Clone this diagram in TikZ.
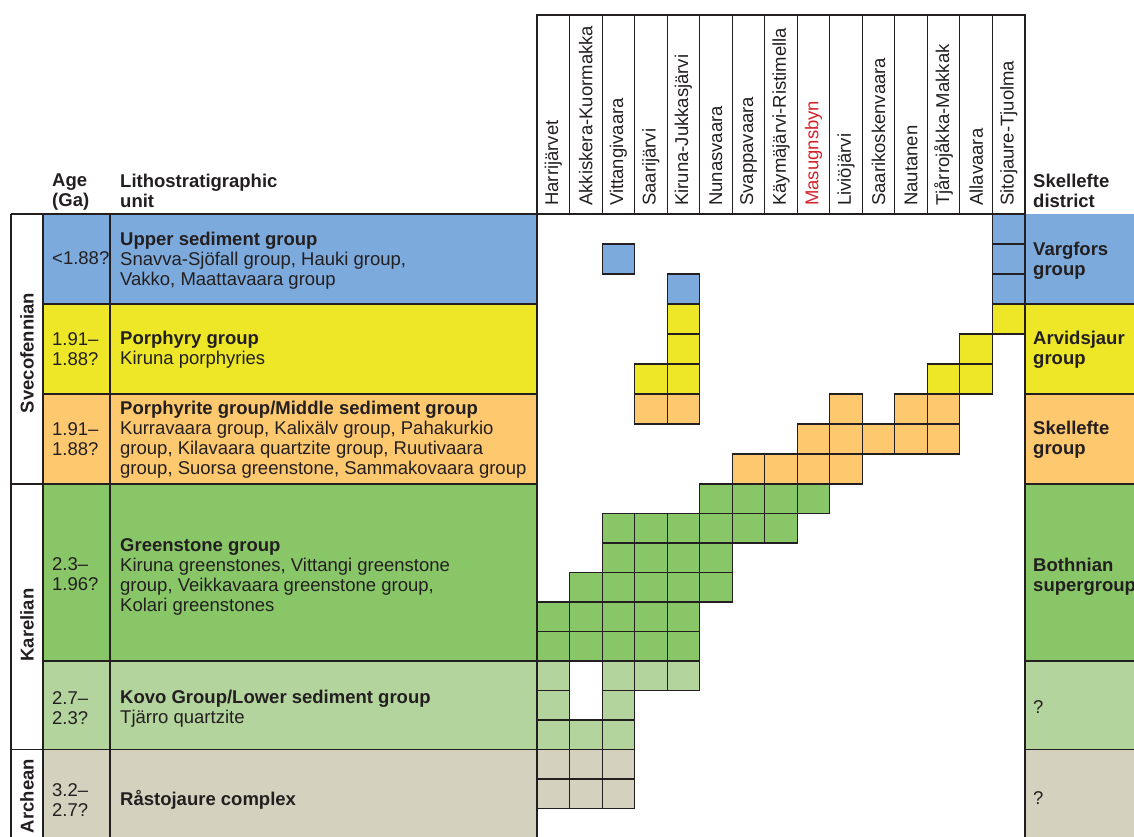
\documentclass[tikz,border=0pt]{standalone}
\usepackage{fontspec}
\setmainfont{Liberation Sans}
\definecolor{upperblue}{RGB}{125, 170, 220}
\definecolor{porphyellow}{RGB}{237, 231, 40}
\definecolor{midorange}{RGB}{254, 200, 111}
\definecolor{greenstone}{RGB}{136, 198, 104}
\definecolor{kovogreen}{RGB}{180, 212, 158}
\definecolor{archtan}{RGB}{212, 210, 190}
\definecolor{inkgray}{RGB}{35, 31, 32}
\definecolor{sitered}{RGB}{210, 35, 42}

\begin{document}
\begin{tikzpicture}[x=1pt, y=-1pt, font=\fontsize{18.5}{20}\selectfont,
    declare function={rowy(\r)=ifthenelse(\r<=9, 214+30*\r, 484+29.5*(\r-9)); colx(\c)=537+32.53*\c;},
    rule/.style={draw=inkgray, line width=1.1pt},
    cell/.style={draw=inkgray, line width=1.1pt},
    unittext/.style={anchor=west, align=left, inner sep=0pt, text=inkgray},
    boldtext/.style={unittext, font=\bfseries\fontsize{18.5}{20}\selectfont},
    eratext/.style={rotate=90, inner sep=0pt, text=inkgray, font=\bfseries\fontsize{18.5}{20}\selectfont},
    sitetext/.style={rotate=90, anchor=west, inner sep=0pt}]
  \useasboundingbox (0,0) rectangle (1134,837);

  % section bands
  \foreach \top/\bot/\tint in {0/3/upperblue, 3/6/porphyellow, 6/9/midorange, 9/15/greenstone, 15/18/kovogreen, 18/22/archtan} {
    \fill[\tint] (43,{rowy(\top)}) rectangle (537,{rowy(\bot)});
    \fill[\tint] (1025,{rowy(\top)}) rectangle (1140,{rowy(\bot)});
  }

  % table rules
  \draw[rule] (11,214) -- (537,214);
  \foreach \x in {11, 43, 110, 537, 1025}
    \draw[rule] (\x,214) -- (\x,845);
  \foreach \ry in {9, 18}
    \draw[rule] (11,{rowy(\ry)}) -- (43,{rowy(\ry)});
  \foreach \ry in {3, 6, 9, 15, 18} {
    \draw[rule] (43,{rowy(\ry)}) -- (537,{rowy(\ry)});
    \draw[rule] (1025,{rowy(\ry)}) -- (1140,{rowy(\ry)});
  }

  % header boxes
  \draw[rule] (537,15) rectangle (1025,214);
  \foreach \cx in {1,...,14}
    \draw[rule] ({colx(\cx)},15) -- ({colx(\cx)},214);

  % occurrence cells
  \foreach \cx/\ry in {14/0, 2/1, 14/1, 4/2, 14/2}
    \draw[cell, fill=upperblue] ({colx(\cx)},{rowy(\ry)}) rectangle ({colx(\cx+1)},{rowy(\ry+1)});
  \foreach \cx/\ry in {4/3, 14/3, 4/4, 13/4, 3/5, 4/5, 12/5, 13/5}
    \draw[cell, fill=porphyellow] ({colx(\cx)},{rowy(\ry)}) rectangle ({colx(\cx+1)},{rowy(\ry+1)});
  \foreach \cx/\ry in {3/6, 4/6, 9/6, 11/6, 12/6, 8/7, 9/7, 10/7, 11/7, 12/7, 6/8, 7/8, 8/8, 9/8}
    \draw[cell, fill=midorange] ({colx(\cx)},{rowy(\ry)}) rectangle ({colx(\cx+1)},{rowy(\ry+1)});
  \foreach \cx/\ry in {5/9, 6/9, 7/9, 8/9, 2/10, 3/10, 4/10, 5/10, 6/10, 7/10, 2/11, 3/11, 4/11, 5/11,
      1/12, 2/12, 3/12, 4/12, 5/12, 0/13, 1/13, 2/13, 3/13, 4/13, 0/14, 1/14, 2/14, 3/14, 4/14}
    \draw[cell, fill=greenstone] ({colx(\cx)},{rowy(\ry)}) rectangle ({colx(\cx+1)},{rowy(\ry+1)});
  \foreach \cx/\ry in {0/15, 2/15, 3/15, 4/15, 0/16, 2/16, 0/17, 1/17, 2/17}
    \draw[cell, fill=kovogreen] ({colx(\cx)},{rowy(\ry)}) rectangle ({colx(\cx+1)},{rowy(\ry+1)});
  \foreach \cx/\ry in {0/18, 1/18, 2/18, 0/19, 1/19, 2/19}
    \draw[cell, fill=archtan] ({colx(\cx)},{rowy(\ry)}) rectangle ({colx(\cx+1)},{rowy(\ry+1)});

  % column headers
  \node[boldtext] (agehead) at (52,192.5) {Age\\(Ga)};
  \node[boldtext] (unithead) at (120,190.5) {Lithostratigraphic\\unit};
  \node[boldtext] (districthead) at (1033,190.5) {Skellefte\\district};
  \foreach \site/\tint [count=\cx from 0] in {Harrijärvet/inkgray, Akkiskera-Kuormakka/inkgray,
      Vittangivaara/inkgray, Saarijärvi/inkgray, Kiruna-Jukkasjärvi/inkgray, Nunasvaara/inkgray,
      Svappavaara/inkgray, Käymäjärvi-Ristimella/inkgray, Masugnsbyn/sitered, Liviöjärvi/inkgray,
      Saarikoskenvaara/inkgray, Nautanen/inkgray, Tjårrojåkka-Makkak/inkgray, Allavaara/inkgray,
      Sitojaure-Tjuolma/inkgray}
    \node[sitetext, text=\tint] (site\cx) at ({colx(\cx)+16.3},206) {\site};

  % eras
  \node[eratext] (svecofennian) at (27,353) {Svecofennian};
  \node[eratext] (karelian) at (27,625) {Karelian};
  \node[eratext] (archean) at (27,796) {Archean};

  % ages
  \node[unittext] (ageupper) at (52,258.5) {<1.88?};
  \node[unittext] (ageporphyry) at (52,349) {1.91--\\1.88?};
  \node[unittext] (ageporphyrite) at (52,439) {1.91--\\1.88?};
  \node[unittext] (agegreen) at (52,574) {2.3--\\1.96?};
  \node[unittext] (agekovo) at (52,708) {2.7--\\2.3?};
  \node[unittext] (agearch) at (52,800) {3.2--\\2.7?};

  % lithostratigraphic units
  \node[unittext] (upper) at (120,260.5) {\textbf{Upper sediment group}\\Snavva-Sjöfall group, Hauki group,\\Vakko, Maattavaara group};
  \node[unittext] (porphyry) at (120,349.5) {\textbf{Porphyry group}\\Kiruna porphyries};
  \node[unittext] (porphyrite) at (120,439.5) {\textbf{Porphyrite group/Middle sediment group}\\Kurravaara group, Kalixälv group, Pahakurkio\\group, Kilavaara quartzite group, Ruutivaara\\group, Suorsa greenstone, Sammakovaara group};
  \node[unittext] (greenstonegrp) at (120,576.5) {\textbf{Greenstone group}\\Kiruna greenstones, Vittangi greenstone\\group, Veikkavaara greenstone group,\\Kolari greenstones};
  \node[unittext] (kovo) at (120,708.5) {\textbf{Kovo Group/Lower sediment group}\\Tjärro quartzite};
  \node[unittext] (rastojaure) at (120,799.5) {\textbf{Råstojaure complex}};

  % Skellefte district
  \node[boldtext] (vargfors) at (1033,260.5) {Vargfors\\group};
  \node[boldtext] (arvidsjaur) at (1033,349.5) {Arvidsjaur\\group};
  \node[boldtext] (skellefte) at (1033,440) {Skellefte\\group};
  \node[boldtext] (bothnian) at (1033,577) {Bothnian\\supergroup};
  \node[unittext] (distkovo) at (1033,707) {?};
  \node[unittext] (distarch) at (1033,798) {?};
\end{tikzpicture}
\end{document}
